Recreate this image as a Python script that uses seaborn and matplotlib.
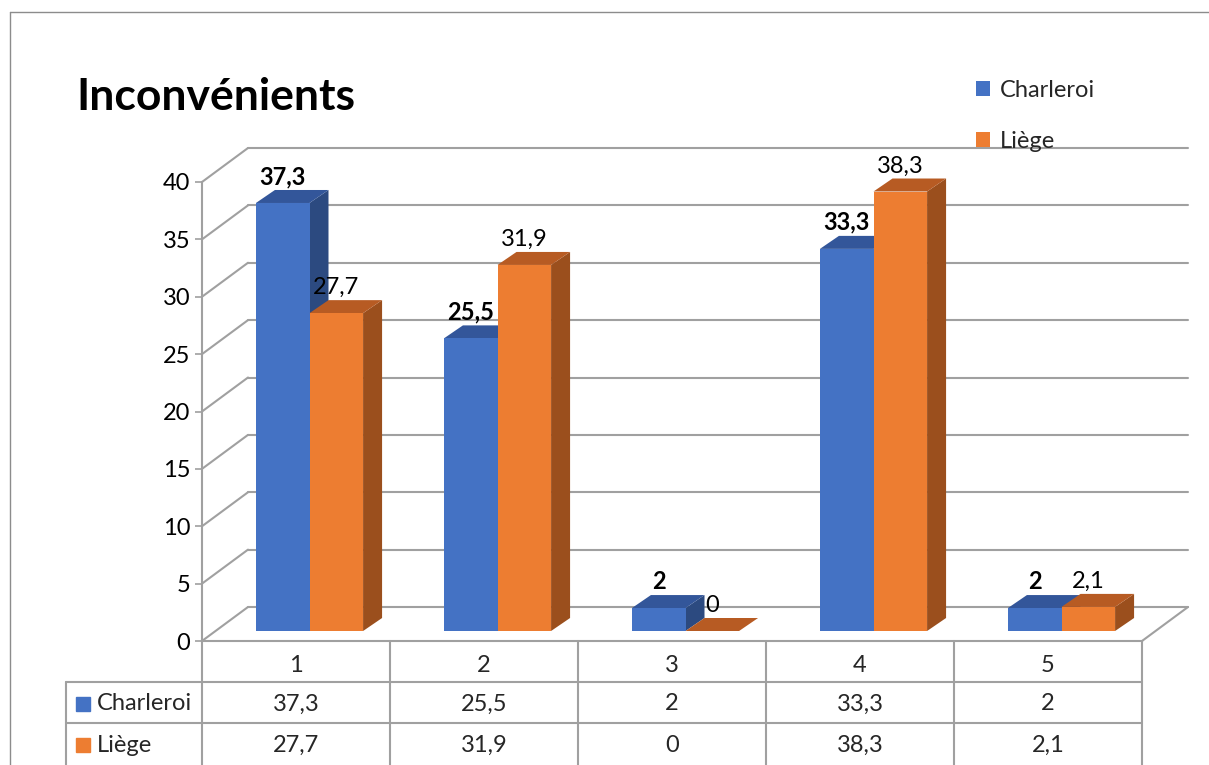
import numpy as np
import pandas as pd
import matplotlib
matplotlib.use("Agg")
import matplotlib.pyplot as plt
import matplotlib.transforms as mtransforms
from matplotlib.patches import Polygon, Patch
from matplotlib.lines import Line2D
import seaborn as sns

# ---------------- data ----------------
categories = ["1", "2", "3", "4", "5"]
series_names = ["Charleroi", "Liège"]
charleroi = [37.3, 25.5, 2, 33.3, 2]
liege = [27.7, 31.9, 0, 38.3, 2.1]
yticks = [0, 5, 10, 15, 20, 25, 30, 35, 40]
title = "Inconvénients"

# ---------------- style ----------------
sns.set_theme(style="white")
plt.rcParams["font.family"] = ["Lato", "DejaVu Sans"]

W, H = 1209, 765
fig = plt.figure(figsize=(W / 100, H / 100), dpi=100)

# front plane of the chart in pixels
x_left, x_right = 202, 1142
y_zero, y_top = 641, 182
ax = fig.add_axes([x_left / W, (H - y_zero) / H, (x_right - x_left) / W, (y_zero - y_top) / H])

blue, orange = "#4472C4", "#ED7D31"
blue_top, blue_side = "#33569A", "#2C4A80"
orange_top, orange_side = "#B75B23", "#9B4F1D"
grid_c = "#A0A0A0"
fs = 17

df = pd.DataFrame({
    "cat": categories * 2,
    "serie": [series_names[0]] * 5 + [series_names[1]] * 5,
    "value": charleroi + liege,
})

sns.barplot(data=df, x="cat", y="value", hue="serie", palette=[blue, orange],
            width=0.57, dodge=True, saturation=1, ax=ax, legend=False,
            edgecolor="none", linewidth=0)

ax.set_xlim(-0.5, 4.5)
ax.set_ylim(0, 40)
ppx = (x_right - x_left) / 5.0        # pixels per category
ppy = (y_zero - y_top) / 40.0         # pixels per unit

# 3D offsets (pixels -> data units)
fx, fy = 13.5 / ppx, 10 / ppy         # bar plane relative to front
dx, dy = 19 / ppx, 13 / ppy           # bar depth
bx, by = 46 / ppx, 34 / ppy           # back wall relative to front

# back wall gridlines and left diagonals
for t in yticks:
    ax.add_line(Line2D([-0.5 + bx, 4.5 + bx], [t + by, t + by], color=grid_c, lw=1.5,
                       clip_on=False, zorder=1))
    ax.add_line(Line2D([-0.5, -0.5 + bx], [t, t + by], color=grid_c, lw=1.5,
                       clip_on=False, zorder=1))
# floor right edge
ax.add_line(Line2D([4.5, 4.5 + bx], [0, by], color=grid_c, lw=1.5, clip_on=False, zorder=1))

# 3D bars
tops = [blue_top, orange_top]
sides = [blue_side, orange_side]
shift = mtransforms.Affine2D().translate(fx, fy)
for si, cont in enumerate(ax.containers):
    base_z = 2 + si
    for p in cont.patches:
        x0, w, h = p.get_x(), p.get_width(), p.get_height()
        p.set_transform(shift + ax.transData)
        p.set_zorder(base_z + 0.2)
        p.set_clip_on(False)
        side = Polygon([(x0 + w + fx, fy), (x0 + w + fx + dx, fy + dy),
                        (x0 + w + fx + dx, h + fy + dy), (x0 + w + fx, h + fy)],
                       closed=True, facecolor=sides[si], edgecolor="none",
                       zorder=base_z, clip_on=False)
        top = Polygon([(x0 + fx, h + fy), (x0 + w + fx, h + fy),
                       (x0 + w + fx + dx, h + fy + dy), (x0 + fx + dx, h + fy + dy)],
                      closed=True, facecolor=tops[si], edgecolor="none",
                      zorder=base_z + 0.1, clip_on=False)
        ax.add_patch(side)
        ax.add_patch(top)
        lbl = f"{h:g}".replace(".", ",")
        ax.annotate(lbl, (x0 + w / 2 + fx, h + fy + dy), xytext=(0, 4.3),
                    textcoords="offset points", ha="center", va="baseline",
                    fontsize=fs, fontweight="bold" if si == 0 else "normal",
                    color="black", zorder=10, annotation_clip=False)

# axes styling
for s in ["top", "right"]:
    ax.spines[s].set_visible(False)
for s in ["left", "bottom"]:
    ax.spines[s].set_color(grid_c)
    ax.spines[s].set_linewidth(1.5)
ax.set_yticks(yticks)
ax.set_yticklabels([str(t) for t in yticks], fontsize=fs)
ax.tick_params(axis="y", left=True, length=5, width=1.2, color=grid_c, pad=3.5,
               labelcolor="black", direction="out")
ax.tick_params(axis="x", bottom=False, labelbottom=False)
ax.set_xlabel("")
ax.set_ylabel("")
ax.set_facecolor("none")

# ---------------- data table ----------------
trans = mtransforms.blended_transform_factory(ax.transData, ax.transAxes)
def fy_px(p):
    return (y_zero - p) / (y_zero - y_top)

leg_left = -0.5 + (66 - x_left) / ppx
row1, row2, row_bottom = 682, 723, 800
tab_c = "#A0A0A0"
for k in range(6):
    ax.add_line(Line2D([k - 0.5, k - 0.5], [0, fy_px(row_bottom)], transform=trans,
                       color=tab_c, lw=1.5, clip_on=False))
ax.add_line(Line2D([leg_left, leg_left], [fy_px(row1), fy_px(row_bottom)], transform=trans,
                   color=tab_c, lw=1.5, clip_on=False))
for r in [row1, row2]:
    ax.add_line(Line2D([leg_left, 4.5], [fy_px(r), fy_px(r)], transform=trans,
                       color=tab_c, lw=1.5, clip_on=False))

for i, c in enumerate(categories):
    ax.text(i, fy_px(665), c, transform=trans, ha="center", va="center", fontsize=fs)
    ax.text(i, fy_px(704), f"{charleroi[i]:g}".replace(".", ","), transform=trans,
            ha="center", va="center", fontsize=fs)
    ax.text(i, fy_px(745), f"{liege[i]:g}".replace(".", ","), transform=trans,
            ha="center", va="center", fontsize=fs)

for name, col, yp in [(series_names[0], blue, 704), (series_names[1], orange, 745)]:
    ax.plot([-0.5 + (83 - x_left) / ppx], [fy_px(yp)], marker="s", ms=10, color=col,
            transform=trans, clip_on=False, linestyle="none")
    ax.text(-0.5 + (97 - x_left) / ppx, fy_px(yp), name, transform=trans,
            ha="left", va="center", fontsize=fs)

# ---------------- legend ----------------
handles = [Patch(facecolor=blue, edgecolor="none"), Patch(facecolor=orange, edgecolor="none")]
fig.legend(handles, series_names, loc="upper left", bbox_to_anchor=(976 / W, 1 - 80 / H),
           frameon=False, fontsize=fs, handlelength=0.6, handleheight=0.6,
           handletextpad=0.4, labelspacing=1.25, borderpad=0, borderaxespad=0)

# ---------------- title ----------------
fig.text(76 / W, 1 - 97 / H, title, ha="left", va="center", fontsize=32,
         fontweight="bold", color="black")

# outer frame
fig.add_artist(Line2D([10 / W, 10 / W], [0, 1 - 12 / H], transform=fig.transFigure,
                      color="#8C8C8C", lw=1))
fig.add_artist(Line2D([10 / W, 1], [1 - 12 / H, 1 - 12 / H], transform=fig.transFigure,
                      color="#8C8C8C", lw=1))

fig.savefig("out.png", dpi=100, facecolor="white")
